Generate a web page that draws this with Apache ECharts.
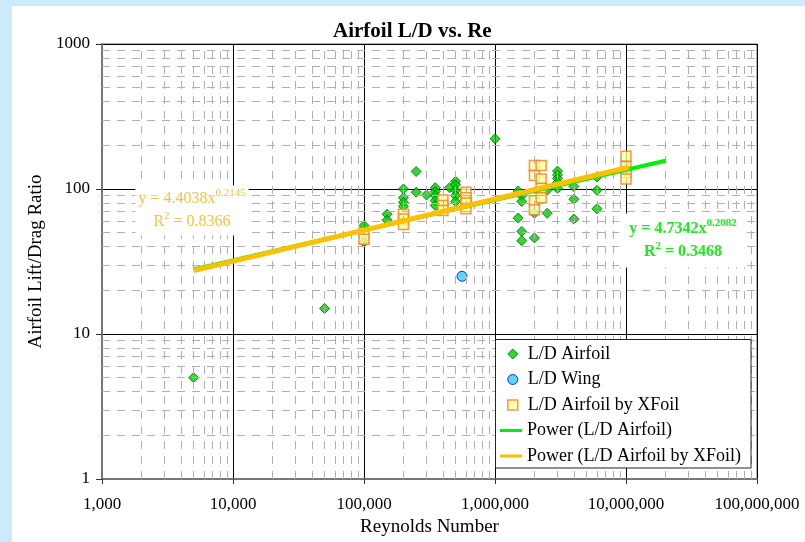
<!DOCTYPE html>
<html>
<head>
<meta charset="utf-8">
<title>Airfoil L/D vs. Re</title>
<script src="https://cdn.jsdelivr.net/npm/echarts@6.0.0/dist/echarts.min.js"></script>
<style>
  html, body { margin: 0; padding: 0; background: #cdeafb; }
  #panel { position: absolute; left: 12px; top: 6px; width: 793px; height: 536px; background: #ffffff; }
  #chart { position: absolute; left: 0; top: 0; width: 805px; height: 542px; }
</style>
</head>
<body>
<div id="panel"></div>
<div id="chart"></div>
<script>
// Measured lift/drag ratios: [Reynolds number, L/D]
const airfoilLD = [
  [5000, 5], [50000, 15],
  [100000, 56], [100000, 43],
  [150000, 67], [150000, 61],
  [200000, 100], [200000, 87], [200000, 81], [200000, 76],
  [250000, 132], [250000, 95],
  [300000, 91],
  [350000, 102], [350000, 96], [350000, 90], [350000, 83], [350000, 77],
  [450000, 102],
  [500000, 113], [500000, 107], [500000, 98], [500000, 90], [500000, 82],
  [1000000, 222],
  [1500000, 97], [1500000, 63],
  [1600000, 90], [1600000, 82], [1600000, 51], [1600000, 44],
  [2000000, 46], [2000000, 68],
  [2500000, 68], [2500000, 98],
  [3000000, 133], [3000000, 125], [3000000, 118], [3000000, 111], [3000000, 101],
  [4000000, 104], [4000000, 85], [4000000, 62],
  [6000000, 121], [6000000, 98], [6000000, 73]
];

const wingLD = [
  [560000, 25]
];

const xfoilLD = [
  [100000, 50], [100000, 45],
  [200000, 67], [200000, 62], [200000, 57],
  [400000, 84], [400000, 77], [400000, 71],
  [600000, 95], [600000, 87], [600000, 80], [600000, 73],
  [2000000, 145], [2000000, 124], [2000000, 83], [2000000, 72],
  [2250000, 145], [2250000, 117], [2250000, 101], [2250000, 87],
  [10000000, 168], [10000000, 143], [10000000, 130], [10000000, 117]
];

// Power-law trendlines y = a * x^b, as printed on the chart
const airfoilFit = { a: 4.7342, b: 0.2082, r2: 0.3468, from: 5000, to: 20000000 };
const xfoilFit = { a: 4.4038, b: 0.2145, r2: 0.8366, from: 5000, to: 10500000 };

// Axis ranges, decade gridlines and minor (2..9) gridlines
const xRange = [1000, 100000000];
const yRange = [1, 1000];
const xDecades = [1000, 10000, 100000, 1000000, 10000000];
const yDecades = [1, 10, 100];
const minorSteps = [2, 3, 4, 5, 6, 7, 8, 9];

const FONT = "'Liberation Serif', 'Times New Roman', serif";

function fitLine(fit) {
  return [fit.from, fit.to].map(x => [x, fit.a * Math.pow(x, fit.b)]);
}

const minorLines = [];
xDecades.forEach(d => minorSteps.forEach(m => minorLines.push({ xAxis: d * m })));
yDecades.forEach(d => minorSteps.forEach(m => minorLines.push({ yAxis: d * m })));

const chart = echarts.init(document.getElementById('chart'), null, { renderer: 'canvas' });

const legendText = { fontFamily: FONT, fontSize: 18, color: '#000', lineHeight: 18 };

const option = {
  animation: false,
  backgroundColor: 'transparent',
  title: {
    text: 'Airfoil L/D vs. Re',
    left: 328,
    top: 16,
    textStyle: { fontFamily: FONT, fontSize: 21, fontWeight: 'bold', color: '#000' }
  },
  grid: {
    left: 102, top: 44, width: 655, height: 435,
    show: true, borderColor: '#666', borderWidth: 1, backgroundColor: 'transparent'
  },
  xAxis: {
    type: 'log', logBase: 10, min: xRange[0], max: xRange[1], splitNumber: 5,
    name: 'Reynolds Number', nameLocation: 'middle', nameGap: 33,
    nameTextStyle: { fontFamily: FONT, fontSize: 19, color: '#000' },
    axisLine: { lineStyle: { color: '#777', width: 2 } },
    axisTick: { show: true, length: 5, lineStyle: { color: '#333' } },
    axisLabel: {
      fontFamily: FONT, fontSize: 17, color: '#000', margin: 17,
      showMinLabel: true, showMaxLabel: true,
      formatter: v => Math.round(v).toLocaleString('en-US')
    },
    splitLine: { show: true, lineStyle: { color: '#000', width: 1 } }
  },
  yAxis: {
    type: 'log', logBase: 10, min: yRange[0], max: yRange[1], splitNumber: 3,
    name: 'Airfoil Lift/Drag Ratio', nameLocation: 'middle', nameGap: 50,
    nameTextStyle: { fontFamily: FONT, fontSize: 19, color: '#000' },
    axisLine: { lineStyle: { color: '#777', width: 2 } },
    axisTick: { show: true, length: 6, lineStyle: { color: '#333' } },
    axisLabel: {
      fontFamily: FONT, fontSize: 17, color: '#000', margin: 12,
      showMinLabel: true, showMaxLabel: true,
      formatter: v => String(Math.round(v))
    },
    splitLine: { show: true, lineStyle: { color: '#000', width: 1 } }
  },
  legend: [
    {
      // marker entries
      orient: 'vertical', left: 507, top: 345, padding: 0, z: 10,
      itemWidth: 10, itemHeight: 10, itemGap: 7.5,
      selectedMode: false,
      textStyle: Object.assign({ padding: [0, 0, 0, 5] }, legendText),
      data: [
        { name: 'L/D Airfoil', icon: 'diamond', itemStyle: { color: '#00cc00', borderColor: '#006600', borderWidth: 1 } },
        { name: 'L/D Wing', icon: 'circle', itemStyle: { color: '#33ccff', borderColor: '#0000cc', borderWidth: 1 } },
        { name: 'L/D Airfoil by XFoil', icon: 'rect', itemStyle: { color: '#ffff99', borderColor: '#ff7722', borderWidth: 1.5 } }
      ]
    },
    {
      // trendline entries
      orient: 'vertical', left: 500, top: 421.5, padding: 0, z: 10,
      itemWidth: 22, itemHeight: 3, itemGap: 7.5,
      selectedMode: false,
      textStyle: legendText,
      data: [
        { name: 'Power (L/D Airfoil)', icon: 'rect', itemStyle: { color: '#00ee00', borderWidth: 0 } },
        { name: 'Power (L/D Airfoil by XFoil)', icon: 'rect', itemStyle: { color: '#ffc000', borderWidth: 0 } }
      ]
    }
  ],
  graphic: [
    {
      // legend frame
      type: 'rect', z: 9, silent: true,
      shape: { x: 495.5, y: 339.5, width: 255.5, height: 128.5 },
      style: { fill: '#fff', stroke: '#222', lineWidth: 1 }
    },
    {
      type: 'text', x: 192, y: 210.5, z: 50, silent: true,
      style: {
        text: '{a|y = ' + xfoilFit.a.toFixed(4) + 'x}{s|' + xfoilFit.b.toFixed(4) + '}\n{a|R}{s|2}{a| = ' + xfoilFit.r2.toFixed(4) + '}',
        align: 'center', verticalAlign: 'middle',
        backgroundColor: '#fff', padding: [2, 3],
        rich: {
          a: { fontFamily: FONT, fontSize: 16, lineHeight: 23, fill: '#f5c242' },
          s: { fontFamily: FONT, fontSize: 11, lineHeight: 11, verticalAlign: 'top', fill: '#f5c242' }
        }
      }
    },
    {
      type: 'text', x: 683, y: 240.5, z: 50, silent: true,
      style: {
        text: '{a|y = ' + airfoilFit.a.toFixed(4) + 'x}{s|' + airfoilFit.b.toFixed(4) + '}\n{a|R}{s|2}{a| = ' + airfoilFit.r2.toFixed(4) + '}',
        align: 'center', verticalAlign: 'middle',
        backgroundColor: '#fff', padding: [4, 10],
        rich: {
          a: { fontFamily: FONT, fontSize: 16, fontWeight: 'bold', lineHeight: 23, fill: '#1aee1a' },
          s: { fontFamily: FONT, fontSize: 11, fontWeight: 'bold', lineHeight: 11, verticalAlign: 'top', fill: '#1aee1a' }
        }
      }
    }
  ],
  series: [
    {
      // minor log gridlines (2..9 within each decade)
      type: 'scatter', name: 'minor-grid', data: [], z: 1, silent: true,
      markLine: {
        silent: true, animation: false,
        symbol: ['none', 'none'],
        label: { show: false },
        emphasis: { disabled: true },
        lineStyle: { color: '#b0b0b0', width: 1, type: [8, 7] },
        data: minorLines
      }
    },
    {
      type: 'scatter', name: 'L/D Airfoil', data: airfoilLD, z: 3,
      symbol: 'diamond', symbolSize: 10,
      itemStyle: { color: '#00cc00', borderColor: '#006600', borderWidth: 1 }
    },
    {
      type: 'scatter', name: 'L/D Wing', data: wingLD, z: 3,
      symbol: 'circle', symbolSize: 10,
      itemStyle: { color: '#33ccff', borderColor: '#0000cc', borderWidth: 1 }
    },
    {
      type: 'scatter', name: 'L/D Airfoil by XFoil', data: xfoilLD, z: 4,
      symbol: 'rect', symbolSize: 10,
      itemStyle: { color: '#ffff99', borderColor: '#ff7722', borderWidth: 1.5 }
    },
    {
      type: 'line', name: 'Power (L/D Airfoil)', data: fitLine(airfoilFit), z: 5,
      symbol: 'none', silent: true,
      lineStyle: { color: '#00ee00', width: 4 }, itemStyle: { color: '#00ee00' }
    },
    {
      type: 'line', name: 'Power (L/D Airfoil by XFoil)', data: fitLine(xfoilFit), z: 6,
      symbol: 'none', silent: true,
      lineStyle: { color: '#ffc000', width: 5 }, itemStyle: { color: '#ffc000' }
    }
  ]
};

chart.setOption(option);
</script>
</body>
</html>
